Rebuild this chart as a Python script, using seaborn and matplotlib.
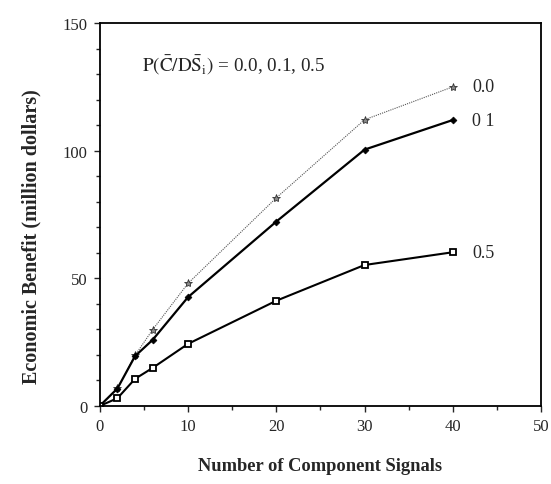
import matplotlib
matplotlib.use("Agg")
import matplotlib.pyplot as plt
import seaborn as sns
import pandas as pd
from matplotlib.ticker import MultipleLocator

signals = [0, 2, 4, 6, 10, 20, 30, 40]
benefit_p00 = [0, 7.0, 19.8, 29.9, 48.0, 81.5, 112.1, 125.0]
benefit_p01 = [0, 6.8, 19.5, 25.9, 42.6, 72.2, 100.4, 112.0]
benefit_p05 = [0, 3.0, 10.6, 14.9, 24.3, 41.2, 55.2, 60.2]
series_labels = ["0.0", "0 1", "0.5"]

sns.set_style("ticks")
plt.rcParams['font.family'] = ['Liberation Serif', 'DejaVu Serif']
plt.rcParams['mathtext.fontset'] = 'stix'

fig = plt.figure(figsize=(5.51, 4.85), dpi=100)
ax = fig.add_axes([0.181, 0.161, 0.801, 0.7895])

styles = [
    dict(color="#555555", lw=0.8, ls=(0, (1, 1)), marker="*", ms=6, mfc="#888888", mec="#333333", mew=0.6),
    dict(color="black", lw=1.6, ls="-", marker="D", ms=3.5, mfc="black", mec="black", mew=0.5),
    dict(color="black", lw=1.5, ls="-", marker="s", ms=4.5, mfc="white", mec="black", mew=1.3),
]
for vals, st in zip([benefit_p00, benefit_p01, benefit_p05], styles):
    df = pd.DataFrame({"x": signals, "y": vals})
    sns.lineplot(data=df, x="x", y="y", ax=ax, color=st["color"], linewidth=st["lw"],
                 linestyle=st["ls"], marker=st["marker"], markersize=st["ms"],
                 markerfacecolor=st["mfc"], markeredgecolor=st["mec"], markeredgewidth=st["mew"])

for lab, vals in zip(series_labels, [benefit_p00, benefit_p01, benefit_p05]):
    ax.text(42.2, vals[-1], lab, fontsize=13, va="center", ha="left")

ax.text(4.8, 134, r'$\mathrm{P(\bar{C}/D\bar{S}_{i})}$ = 0.0, 0.1, 0.5', fontsize=13.8, va="center", ha="left")

ax.set_xlim(0, 50)
ax.set_ylim(0, 150)
ax.xaxis.set_major_locator(MultipleLocator(10))
ax.xaxis.set_minor_locator(MultipleLocator(5))
ax.yaxis.set_major_locator(MultipleLocator(50))
ax.yaxis.set_minor_locator(MultipleLocator(10))
ax.tick_params(which="both", direction="out", labelsize=12, width=1)
ax.tick_params(which="major", length=4, pad=5)
ax.tick_params(which="minor", length=3)
for s in ax.spines.values():
    s.set_linewidth(1.3)
    s.set_color("black")

ax.set_xlabel("Number of Component Signals", fontsize=13.3, fontweight="bold", labelpad=16)
ax.set_ylabel("Economic Benefit (million dollars)", fontsize=14.5, fontweight="bold")
ax.yaxis.set_label_coords(-0.132, 0.444)

fig.savefig("out.png", dpi=100)
